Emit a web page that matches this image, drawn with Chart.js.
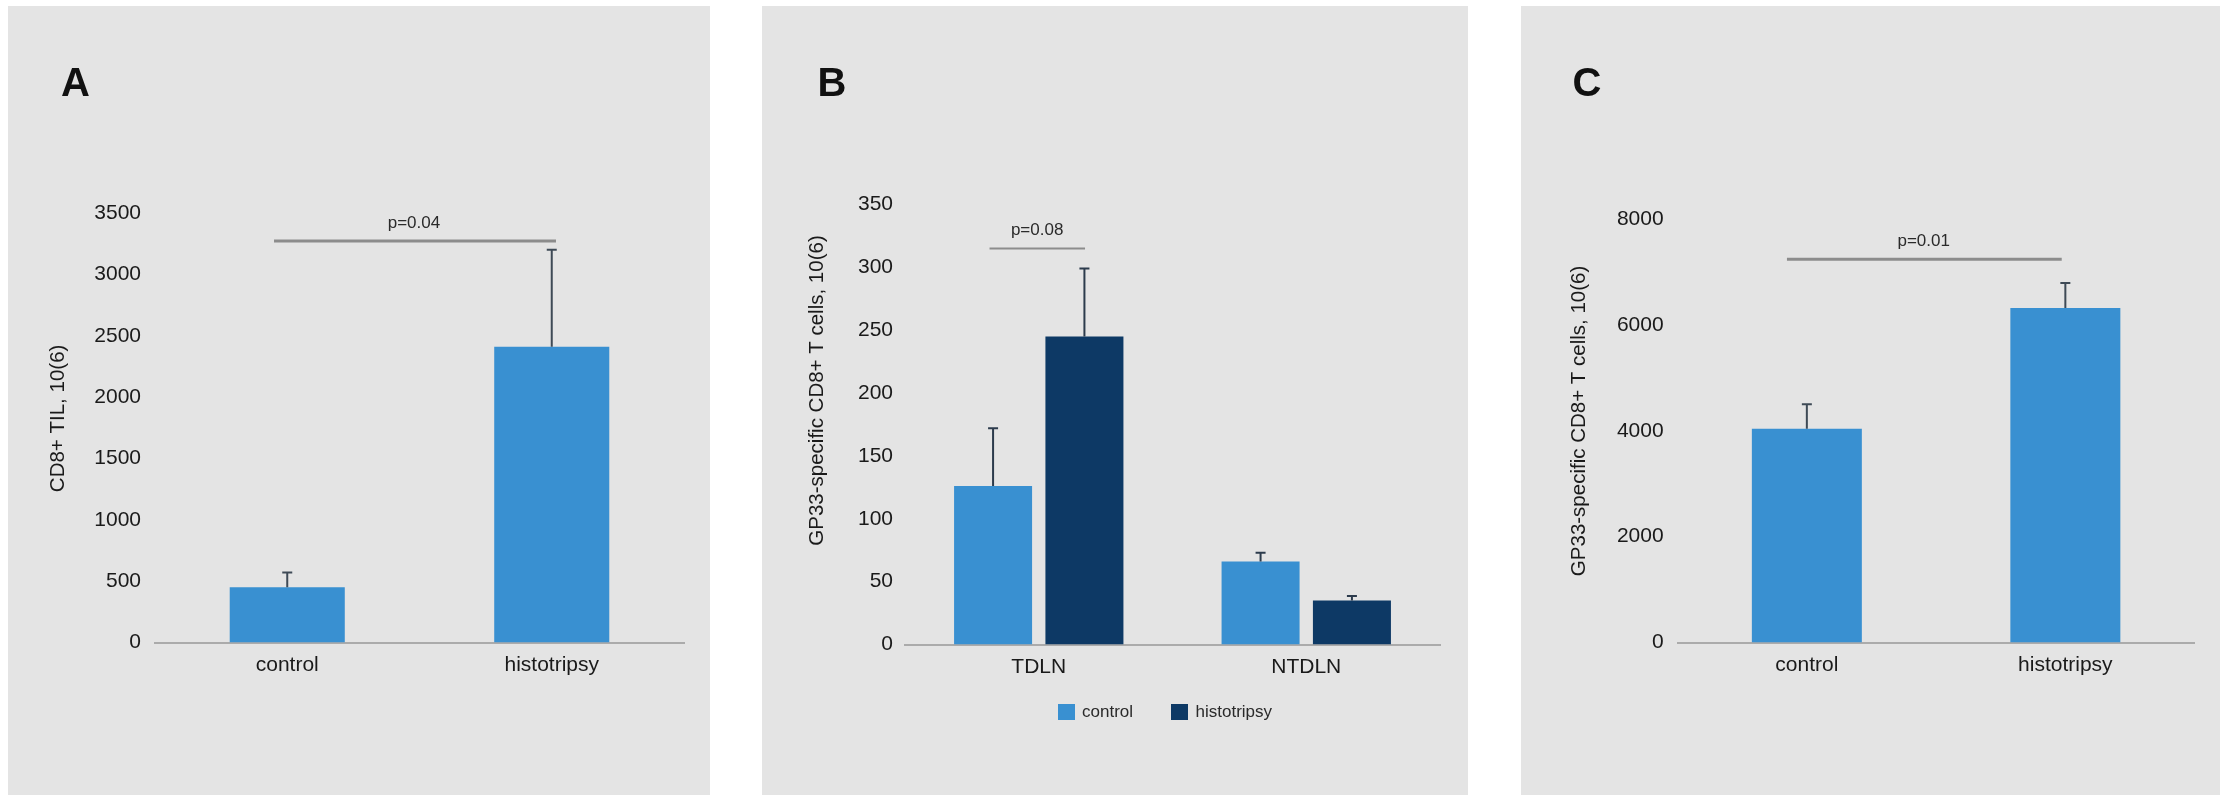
<!DOCTYPE html>
<html>
<head>
<meta charset="utf-8">
<script src="https://cdn.jsdelivr.net/npm/chart.js@4.4.1/dist/chart.umd.min.js"></script>
<style>
  html, body { margin: 0; padding: 0; background: #ffffff; width: 2229px; height: 795px; overflow: hidden; }
  .panel { position: absolute; background: #e4e4e4; }
  .panel canvas { position: absolute; left: 0; top: 0; }
  .legend { position: absolute; display: flex; align-items: center; height: 16px;
            font: 17px "Liberation Sans", Arial, Helvetica, sans-serif; color: #2a2a2a; }
  .legend .item { display: flex; align-items: center; margin-right: 38px; }
  .legend .item:last-child { margin-right: 0; }
  .legend .swatch { width: 17px; height: 16px; margin-right: 7.5px; }
</style>
</head>
<body>
<div class="panel" style="left:8px;top:6px;width:702px;height:789px"><canvas id="chartA" width="702" height="789"></canvas></div>
<div class="panel" style="left:762px;top:6px;width:706px;height:789px"><canvas id="chartB" width="706" height="789"></canvas>
  <div class="legend" id="legendB" style="left:295.5px;top:698px"></div></div>
<div class="panel" style="left:1521px;top:6px;width:699px;height:789px"><canvas id="chartC" width="699" height="789"></canvas></div>

<script>
// ---- Panel A: CD8+ tumour-infiltrating lymphocytes ----
const groupsA = ['control', 'histotripsy'];
const meanA = [450, 2410];
const errA = [120, 790];
const ticksA = [0, 500, 1000, 1500, 2000, 2500, 3000, 3500];
const sigA = { from: -0.05, to: 1.016, value: 3272, label: 'p=0.04', labelAt: 0.479 };

// ---- Panel B: GP33-specific CD8+ T cells per lymph node ----
const nodesB = ['TDLN', 'NTDLN'];
const controlB = [126, 66];
const controlErrB = [46, 7];
const histoB = [245, 35];
const histoErrB = [54, 3.5];
const ticksB = [0, 50, 100, 150, 200, 250, 300, 350];
const sigB = { from: -0.184, to: 0.173, value: 315, label: 'p=0.08', labelAt: -0.006 };

// ---- Panel C: GP33-specific CD8+ T cells ----
const groupsC = ['control', 'histotripsy'];
const meanC = [4040, 6320];
const errC = [460, 470];
const ticksC = [0, 2000, 4000, 6000, 8000];
const sigC = { from: -0.077, to: 0.986, value: 7240, label: 'p=0.01', labelAt: 0.452 };

const seriesNames = ['control', 'histotripsy'];
const axisTitles = ['CD8+ TIL, 10(6)', 'GP33-specific CD8+ T cells, 10(6)', 'GP33-specific CD8+ T cells, 10(6)'];
const panelLetters = ['A', 'B', 'C'];

const FONT = '"Liberation Sans", Arial, Helvetica, sans-serif';
const BLUE = '#3990d1';
const NAVY = '#0d3965';
Chart.defaults.font.family = FONT;
Chart.defaults.color = '#1a1a1a';

// Error bars, significance bar, rotated y title and panel letter
const annotate = {
  id: 'annotate',
  afterDatasetsDraw(chart, args, opts) {
    const ctx = chart.ctx;
    const xs = chart.scales.x, ys = chart.scales.y;
    ctx.save();
    chart.data.datasets.forEach((ds, i) => {
      const meta = chart.getDatasetMeta(i);
      meta.data.forEach((bar, j) => {
        const top = ys.getPixelForValue(ds.data[j] + ds.errors[j]);
        ctx.strokeStyle = opts.errorColor;
        ctx.lineWidth = 2;
        ctx.beginPath();
        ctx.moveTo(bar.x, bar.y);
        ctx.lineTo(bar.x, top);
        ctx.moveTo(bar.x - 5, top);
        ctx.lineTo(bar.x + 5, top);
        ctx.stroke();
      });
    });
    const s = opts.sig;
    const yLine = ys.getPixelForValue(s.value);
    ctx.strokeStyle = '#8c8c8c';
    ctx.lineWidth = opts.sigWidth;
    ctx.beginPath();
    ctx.moveTo(xs.getPixelForValue(s.from), yLine);
    ctx.lineTo(xs.getPixelForValue(s.to), yLine);
    ctx.stroke();
    ctx.fillStyle = '#2a2a2a';
    ctx.font = '17px ' + FONT;
    ctx.textAlign = 'center';
    ctx.textBaseline = 'middle';
    ctx.fillText(s.label, xs.getPixelForValue(s.labelAt), yLine - 18);
    ctx.restore();
  },
  afterDraw(chart, args, opts) {
    const ctx = chart.ctx;
    ctx.save();
    ctx.fillStyle = '#1a1a1a';
    ctx.font = '20.5px ' + FONT;
    ctx.textAlign = 'center';
    ctx.textBaseline = 'middle';
    ctx.translate(opts.titleAt[0], opts.titleAt[1]);
    ctx.rotate(-Math.PI / 2);
    ctx.fillText(opts.title, 0, 0);
    ctx.restore();
    ctx.save();
    ctx.fillStyle = '#111';
    ctx.font = 'bold 40px ' + FONT;
    ctx.textAlign = 'left';
    ctx.textBaseline = 'alphabetic';
    ctx.fillText(opts.letter, opts.letterAt[0], opts.letterAt[1]);
    ctx.restore();
  }
};

function yScale(max, tickList, width, pad) {
  return {
    min: 0, max: max,
    grid: { display: false, drawTicks: false },
    border: { display: false },
    ticks: { padding: pad, color: '#1a1a1a', font: { size: 21 }, callback: v => String(v) },
    afterBuildTicks: s => { s.ticks = tickList.map(v => ({ value: v })); },
    afterFit: s => { s.width = width; }
  };
}
function xScale(height) {
  return {
    grid: { display: false, drawTicks: false },
    border: { display: true, color: '#ababab', width: 2 },
    ticks: { padding: 10, color: '#1a1a1a', font: { size: 21 } },
    afterFit: s => { s.height = height; }
  };
}
const base = { responsive: false, animation: false, events: [] };

new Chart(document.getElementById('chartA'), {
  type: 'bar',
  data: {
    labels: groupsA,
    datasets: [{ label: seriesNames[0], data: meanA, errors: errA, backgroundColor: BLUE, borderWidth: 0,
                 categoryPercentage: 1, barPercentage: 0.435 }]
  },
  options: Object.assign({}, base, {
    layout: { padding: { left: 20, right: 26, top: 207, bottom: 112.5 } },
    scales: { x: xScale(40), y: yScale(3500, ticksA, 127, 14) },
    plugins: {
      legend: { display: false }, tooltip: { enabled: false },
      annotate: { sig: sigA, sigWidth: 3, errorColor: '#3e4a56', title: axisTitles[0], titleAt: [50, 412.4],
                  letter: panelLetters[0], letterAt: [53, 90.3] }
    }
  }),
  plugins: [annotate]
});

const chartB = new Chart(document.getElementById('chartB'), {
  type: 'bar',
  data: {
    labels: nodesB,
    datasets: [
      { label: seriesNames[0], data: controlB, errors: controlErrB, backgroundColor: BLUE, borderWidth: 0,
        categoryPercentage: 0.683, barPercentage: 0.854 },
      { label: seriesNames[1], data: histoB, errors: histoErrB, backgroundColor: NAVY, borderWidth: 0,
        categoryPercentage: 0.683, barPercentage: 0.854 }
    ]
  },
  options: Object.assign({}, base, {
    layout: { padding: { left: 20, right: 28, top: 198.4, bottom: 110.5 } },
    scales: { x: xScale(40), y: yScale(350, ticksB, 123, 12) },
    plugins: {
      legend: { display: false }, tooltip: { enabled: false },
      annotate: { sig: sigB, sigWidth: 2, errorColor: '#2c3b4c', title: axisTitles[1], titleAt: [55.6, 384.5],
                  letter: panelLetters[1], letterAt: [55.6, 90.3] }
    }
  }),
  plugins: [annotate]
});

// Series key for panel B, built from the chart's own legend items
const legendB = document.getElementById('legendB');
Chart.defaults.plugins.legend.labels.generateLabels(chartB).forEach(item => {
  const el = document.createElement('div');
  el.className = 'item';
  const sw = document.createElement('span');
  sw.className = 'swatch';
  sw.style.background = item.fillStyle;
  const tx = document.createElement('span');
  tx.textContent = item.text;
  el.appendChild(sw);
  el.appendChild(tx);
  legendB.appendChild(el);
});

new Chart(document.getElementById('chartC'), {
  type: 'bar',
  data: {
    labels: groupsC,
    datasets: [{ label: seriesNames[0], data: meanC, errors: errC, backgroundColor: BLUE, borderWidth: 0,
                 categoryPercentage: 1, barPercentage: 0.4255 }]
  },
  options: Object.assign({}, base, {
    layout: { padding: { left: 20, right: 25.4, top: 213, bottom: 112.5 } },
    scales: { x: xScale(40), y: yScale(8000, ticksC, 136.6, 14) },
    plugins: {
      legend: { display: false }, tooltip: { enabled: false },
      annotate: { sig: sigC, sigWidth: 3, errorColor: '#3e4a56', title: axisTitles[2], titleAt: [58.5, 414.9],
                  letter: panelLetters[2], letterAt: [51.5, 90.3] }
    }
  }),
  plugins: [annotate]
});
</script>
</body>
</html>
